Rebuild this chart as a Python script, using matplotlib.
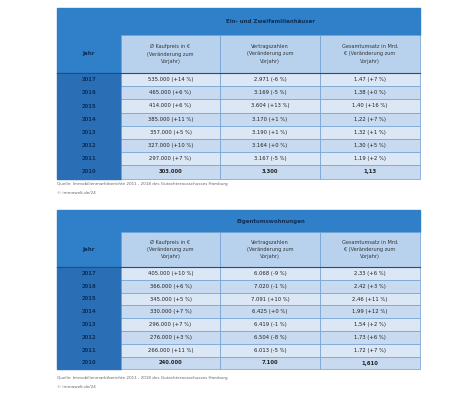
import matplotlib.pyplot as plt
from matplotlib.patches import Rectangle

years = ["2017", "2016", "2015", "2014", "2013", "2012", "2011", "2010"]
col_heads = ["Ø Kaufpreis in €\n(Veränderung zum\nVorjahr)",
             "Vertragszahlen\n(Veränderung zum\nVorjahr)",
             "Gesamtumsatz in Mrd.\n€ (Veränderung zum\nVorjahr)"]

efh_title = "Ein- und Zweifamilienhäuser"
efh_price = ["535.000 (+14 %)", "465.000 (+6 %)", "414.000 (+6 %)", "385.000 (+11 %)",
             "357.000 (+5 %)", "327.000 (+10 %)", "297.000 (+7 %)", "303.000"]
efh_count = ["2.971 (-6 %)", "3.169 (-5 %)", "3.604 (+13 %)", "3.170 (+1 %)",
             "3.190 (+1 %)", "3.164 (+0 %)", "3.167 (-5 %)", "3.300"]
efh_total = ["1,47 (+7 %)", "1,38 (+0 %)", "1,40 (+16 %)", "1,22 (+7 %)",
             "1,32 (+1 %)", "1,30 (+5 %)", "1,19 (+2 %)", "1,13"]

etw_title = "Eigentumswohnungen"
etw_price = ["405.000 (+10 %)", "366.000 (+6 %)", "345.000 (+5 %)", "330.000 (+7 %)",
             "296.000 (+7 %)", "276.000 (+3 %)", "266.000 (+11 %)", "240.000"]
etw_count = ["6.068 (-9 %)", "7.020 (-1 %)", "7.091 (+10 %)", "6.425 (+0 %)",
             "6.419 (-1 %)", "6.504 (-8 %)", "6.013 (-5 %)", "7.100"]
etw_total = ["2,33 (+6 %)", "2,42 (+3 %)", "2,46 (+11 %)", "1,99 (+12 %)",
             "1,54 (+2 %)", "1,73 (+6 %)", "1,72 (+7 %)", "1,610"]

source = "Quelle: Immobilienmarktberichte 2011 - 2018 des Gutachterausschusses Hamburg"
credit = "© immowelt.de/24"

BLUE = "#2f80c8"
DARK = "#2a6fb5"
SUB = "#b8d2ee"
ROW_A = "#dbe7f5"
ROW_B = "#c8daf0"

fig = plt.figure(figsize=(4.71, 4.0), dpi=100)
ax = fig.add_axes([0, 0, 1, 1])
ax.set_xlim(0, 471)
ax.set_ylim(400, 0)
ax.axis("off")

xs = [57, 121, 220, 320, 420]


def draw_table(top, title, price, count, total, foot_y, th, sh, rh):
    # title row
    ax.add_patch(Rectangle((xs[0], top), xs[4] - xs[0], th, color=BLUE))
    ax.text((xs[1] + xs[4]) / 2, top + th / 2, title, ha="center", va="center",
            fontsize=4, color="#0c2f5a", fontweight="bold")
    # year column header
    ax.add_patch(Rectangle((xs[0], top + th), xs[1] - xs[0], sh, color=BLUE))
    ax.text((xs[0] + xs[1]) / 2, top + th + sh / 2, "Jahr", ha="center",
            va="center", fontsize=4, color="#0c2f5a", fontweight="bold")
    for i, head in enumerate(col_heads):
        ax.add_patch(Rectangle((xs[i + 1], top + th), xs[i + 2] - xs[i + 1], sh,
                               facecolor=SUB, edgecolor="#6f9fd0", lw=0.5))
        ax.text((xs[i + 1] + xs[i + 2]) / 2, top + th + sh / 2, head,
                ha="center", va="center", fontsize=3.6, color="#333333",
                linespacing=1.6)
    y0 = top + th + sh
    for r, yr in enumerate(years):
        y = y0 + r * rh
        ax.add_patch(Rectangle((xs[0], y), xs[1] - xs[0], rh, color=DARK))
        ax.text((xs[0] + xs[1]) / 2, y + rh / 2, yr, ha="center", va="center",
                fontsize=3.8, color="#0c2f5a", fontweight="bold")
        for c, vals in enumerate([price, count, total]):
            ax.add_patch(Rectangle((xs[c + 1], y), xs[c + 2] - xs[c + 1], rh,
                                   facecolor=ROW_A if r % 2 == 0 else ROW_B,
                                   edgecolor="#6f9fd0", lw=0.5))
            ax.text((xs[c + 1] + xs[c + 2]) / 2, y + rh / 2, vals[r],
                    ha="center", va="center", fontsize=3.8, color="#222222",
                    fontweight="bold" if r == len(years) - 1 else "normal")
    ax.plot([xs[0], xs[4]], [y0, y0], color="#1d4f85", lw=0.8)
    ax.text(xs[0], foot_y, source, fontsize=3, color="#666666", va="center")
    ax.text(xs[0], foot_y + 9, credit, fontsize=3, color="#666666", va="center")


draw_table(8, efh_title, efh_price, efh_count, efh_total, 184, 27, 38, 13.2)
draw_table(210, etw_title, etw_price, etw_count, etw_total, 378, 22, 35, 12.8)

fig.savefig("out.png", dpi=100)
